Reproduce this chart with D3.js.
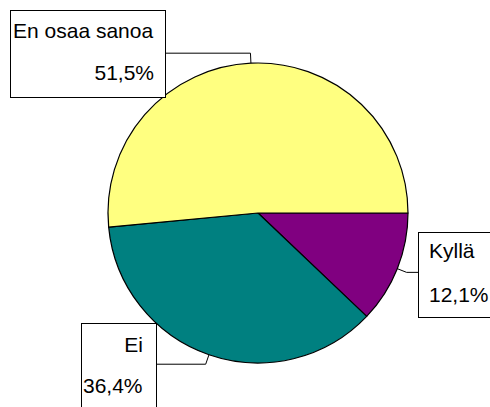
<!DOCTYPE html>
<html>
<head>
    <meta charset="utf-8">
    <script src="https://cdnjs.cloudflare.com/ajax/libs/d3/7.8.5/d3.min.js"></script>
    <style>
        body { margin: 0; background: #fff; }
        text { font-family: Arial, "Liberation Sans", sans-serif; }
    </style>
</head>
<body>
    <div id="graph"></div>
    <script>
        // chart data
        var categories = ["Kyllä", "Ei", "En osaa sanoa"];
        var values = [12.1, 36.4, 51.5];
        var valueLabels = ["12,1%", "36,4%", "51,5%"];
        var colors = ["#800080", "#008080", "#FFFF80"];

        var width = 490, height = 407;
        var cx = 258, cy = 213, radius = 150;

        // label boxes (layout only)
        var boxes = [
            { x: 418, y: 232, w: 110, h: 85, side: "left", line1: { x: 429, y: 258, anchor: "start" }, line2: { x: 429, y: 302, anchor: "start" } },
            { x: 81, y: 323, w: 75, h: 110, side: "right", line1: { x: 143, y: 352, anchor: "end" }, line2: { x: 83, y: 393, anchor: "start" } },
            { x: 10, y: 10, w: 155, h: 87, side: "right", line1: { x: 13, y: 38, anchor: "start" }, line2: { x: 154, y: 80, anchor: "end" } }
        ];

        var svg = d3.select("#graph")
            .append("svg")
            .attr("width", width)
            .attr("height", height);

        var pie = d3.pie()
            .sort(null)
            .startAngle(Math.PI / 2)
            .endAngle(Math.PI / 2 + 2 * Math.PI)
            .value(function (d) { return d; });

        var arcs = pie(values);
        var arc = d3.arc().innerRadius(0).outerRadius(radius);

        var g = svg.append("g").attr("transform", "translate(" + cx + "," + cy + ")");

        g.selectAll("path")
            .data(arcs)
            .enter()
            .append("path")
            .attr("d", arc)
            .attr("fill", function (d, i) { return colors[i]; })
            .attr("stroke", "#000")
            .attr("stroke-width", 1.2)
            .attr("stroke-linejoin", "round");

        // leader lines
        function pointAt(a, r) {
            return [cx + r * Math.sin(a), cy - r * Math.cos(a)];
        }

        svg.selectAll("polyline")
            .data(arcs)
            .enter()
            .append("polyline")
            .attr("points", function (d, i) {
                var mid = (d.startAngle + d.endAngle) / 2;
                var p0 = pointAt(mid, radius);
                var p1 = pointAt(mid, radius + 10);
                var b = boxes[i];
                var bx = b.side === "left" ? b.x : b.x + b.w;
                return [p0, p1, [bx, p1[1]]].map(function (p) { return p.join(","); }).join(" ");
            })
            .attr("fill", "none")
            .attr("stroke", "#000")
            .attr("stroke-width", 1);

        // boxes
        svg.selectAll("rect.box")
            .data(boxes)
            .enter()
            .append("rect")
            .attr("class", "box")
            .attr("x", function (d) { return d.x + 0.5; })
            .attr("y", function (d) { return d.y + 0.5; })
            .attr("width", function (d) { return d.w; })
            .attr("height", function (d) { return d.h; })
            .attr("fill", "#fff")
            .attr("stroke", "#000")
            .attr("stroke-width", 1);

        // category labels
        svg.selectAll("text.cat")
            .data(boxes)
            .enter()
            .append("text")
            .attr("class", "cat")
            .attr("x", function (d) { return d.line1.x; })
            .attr("y", function (d) { return d.line1.y; })
            .attr("text-anchor", function (d) { return d.line1.anchor; })
            .attr("font-size", "21px")
            .attr("fill", "#000")
            .text(function (d, i) { return categories[i]; });

        // value labels
        svg.selectAll("text.val")
            .data(boxes)
            .enter()
            .append("text")
            .attr("class", "val")
            .attr("x", function (d) { return d.line2.x; })
            .attr("y", function (d) { return d.line2.y; })
            .attr("text-anchor", function (d) { return d.line2.anchor; })
            .attr("font-size", "21px")
            .attr("fill", "#000")
            .text(function (d, i) { return valueLabels[i]; });
    </script>
</body>
</html>
